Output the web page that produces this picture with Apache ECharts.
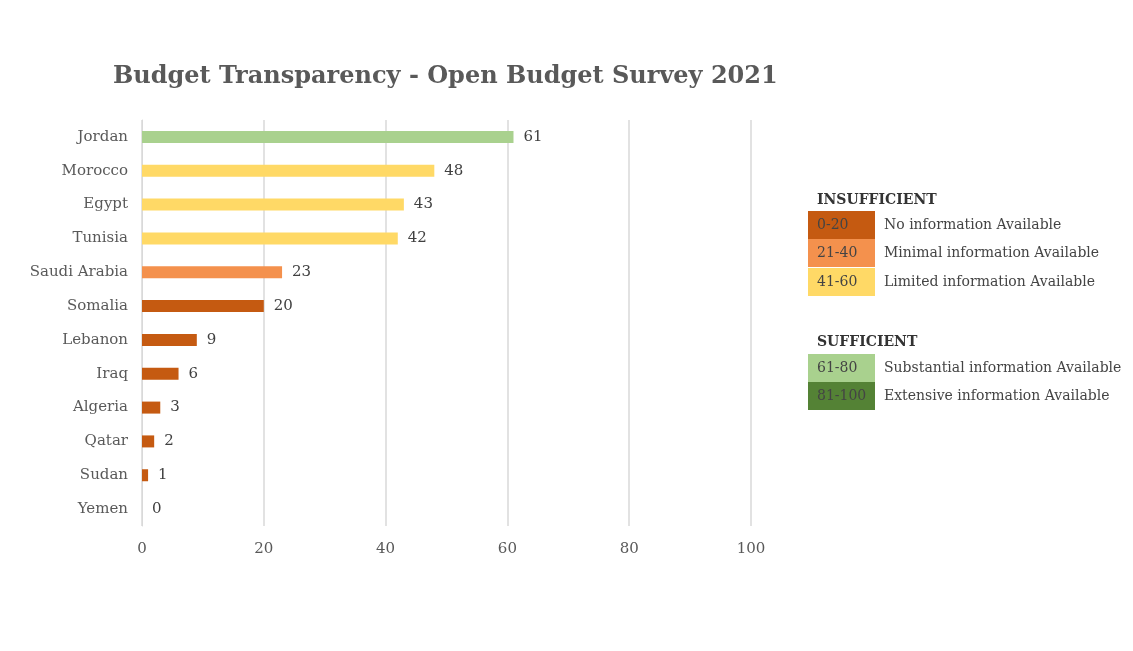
<!DOCTYPE html>
<html>
<head>
<meta charset="utf-8">
<script src="https://cdn.jsdelivr.net/npm/echarts@6/dist/echarts.min.js"></script>
<style>
  html, body { margin: 0; padding: 0; background: #fff; }
  #chart { width: 1133px; height: 651px; }
</style>
</head>
<body>
<div id="chart"></div>
<script>
var countries = ['Jordan', 'Morocco', 'Egypt', 'Tunisia', 'Saudi Arabia', 'Somalia',
    'Lebanon', 'Iraq', 'Algeria', 'Qatar', 'Sudan', 'Yemen'];
var scores = [61, 48, 43, 42, 23, 20, 9, 6, 3, 2, 1, 0];

var bandRanges = ['0-20', '21-40', '41-60', '61-80', '81-100'];
var bandLabels = ['No information Available', 'Minimal information Available',
    'Limited information Available', 'Substantial information Available',
    'Extensive information Available'];
var bandColors = ['#C55A11', '#F4914D', '#FFD966', '#A9D18E', '#548235'];

var serif = '"DejaVu Serif", "Liberation Serif", serif';

var colorFor = function (v) {
    if (v <= 20) return bandColors[0];
    if (v <= 40) return bandColors[1];
    if (v <= 60) return bandColors[2];
    if (v <= 80) return bandColors[3];
    return bandColors[4];
};

// legend boxes drawn as graphics
var graphics = [];
var addHeader = function (text, y) {
    graphics.push({
        type: 'text', left: 817, top: y,
        style: { text: text, font: 'bold 14px ' + serif, fill: '#333' }
    });
};
var addRow = function (i, y) {
    graphics.push({
        type: 'rect', shape: { x: 808, y: y, width: 67, height: 28 },
        style: { fill: bandColors[i] }
    });
    graphics.push({
        type: 'text', left: 817, top: y + 7,
        style: { text: bandRanges[i], font: '14px ' + serif, fill: '#444' }
    });
    graphics.push({
        type: 'text', left: 884, top: y + 7,
        style: { text: bandLabels[i], font: '14px ' + serif, fill: '#444' }
    });
};
addHeader('INSUFFICIENT', 193);
addRow(0, 211);
addRow(1, 239);
addRow(2, 268);
addHeader('SUFFICIENT', 335);
addRow(3, 354);
addRow(4, 382);

var chart = echarts.init(document.getElementById('chart'));
chart.setOption({
    title: {
        text: 'Budget Transparency - Open Budget Survey 2021',
        left: 108, top: 60,
        textStyle: { fontFamily: serif, fontWeight: 'bold', fontSize: 24, color: '#595959' }
    },
    grid: { left: 142, right: 382, top: 120, bottom: 125 },
    xAxis: {
        type: 'value', min: 0, max: 100, interval: 20,
        axisLine: { show: false }, axisTick: { show: false },
        splitLine: { lineStyle: { color: '#D9D9D9', width: 1.5 } },
        axisLabel: { color: '#595959', fontFamily: serif, fontSize: 15, margin: 16 }
    },
    yAxis: {
        type: 'category', data: countries, inverse: true,
        axisLine: { lineStyle: { color: '#D9D9D9' } }, axisTick: { show: false },
        axisLabel: { color: '#595959', fontFamily: serif, fontSize: 15, margin: 14 }
    },
    series: [{
        type: 'bar',
        data: scores,
        barWidth: 12,
        itemStyle: { color: function (p) { return colorFor(p.value); } },
        label: {
            show: true, position: 'right', distance: 10,
            color: '#404040', fontFamily: serif, fontSize: 15
        }
    }],
    graphic: graphics
});
</script>
</body>
</html>
